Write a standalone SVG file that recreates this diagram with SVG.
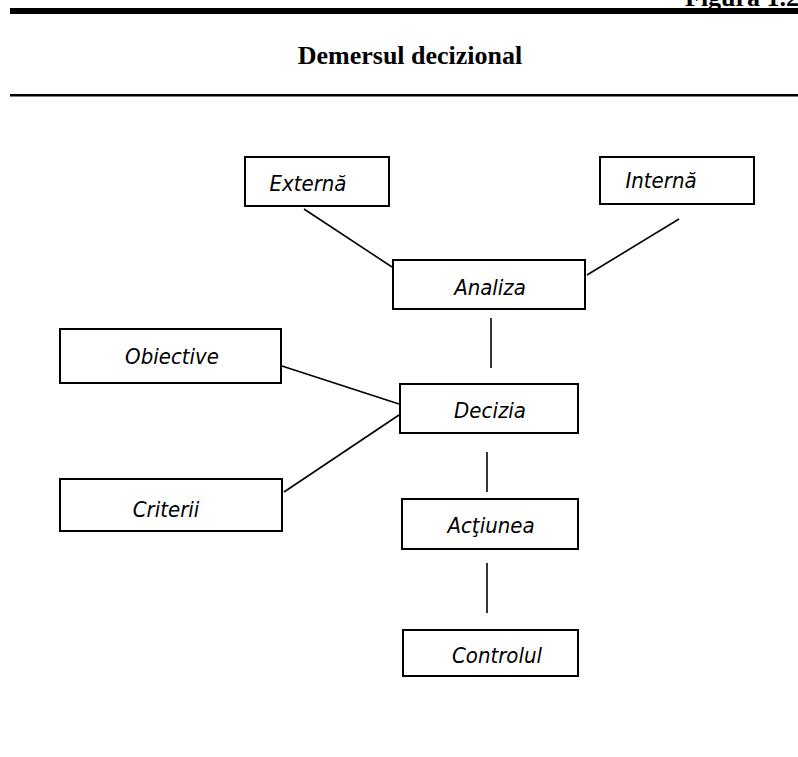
<svg xmlns="http://www.w3.org/2000/svg" width="798" height="757" viewBox="0 0 798 757">
  <style>
    .rule { fill: #000; }
    .head { font-family: "Liberation Serif", "Times New Roman", serif; font-weight: bold; font-size: 26px; fill: #000; }
    .box { fill: #fff; stroke: #000; stroke-width: 2; }
    .lbl { font-family: "DejaVu Sans Condensed", "DejaVu Sans", sans-serif; font-stretch: condensed; font-style: italic; font-size: 22px; fill: #000; text-anchor: middle; }
    .link { stroke: #000; stroke-width: 1.6; fill: none; }
  </style>
  <rect width="798" height="757" fill="#fff"/>

  <!-- page header -->
  <text class="head" x="685" y="6">Figura 1.2</text>
  <rect class="rule" x="10" y="8" width="788" height="6"/>
  <text class="head" x="410" y="64" text-anchor="middle">Demersul decizional</text>
  <rect class="rule" x="10" y="94" width="788" height="2.5"/>

  <!-- connectors -->
  <g id="connectors">
    <line class="link" x1="304" y1="209" x2="392" y2="267"/>
    <line class="link" x1="679" y1="219" x2="587" y2="275"/>
    <line class="link" x1="491" y1="318" x2="491" y2="368"/>
    <line class="link" x1="282" y1="366" x2="399" y2="404"/>
    <line class="link" x1="284" y1="492" x2="399" y2="415"/>
    <line class="link" x1="487" y1="452" x2="487" y2="492"/>
    <line class="link" x1="487" y1="563" x2="487" y2="613"/>
  </g>

  <g id="externa">
    <rect class="box" x="245" y="157" width="144" height="49"/>
    <text class="lbl" x="308" y="191">Externă</text>
  </g>
  <g id="interna">
    <rect class="box" x="600" y="157" width="154" height="47"/>
    <text class="lbl" x="661" y="188">Internă</text>
  </g>
  <g id="analiza">
    <rect class="box" x="393" y="260" width="192" height="49"/>
    <text class="lbl" x="490" y="295">Analiza</text>
  </g>
  <g id="obiective">
    <rect class="box" x="60" y="329" width="221" height="54"/>
    <text class="lbl" x="172" y="364">Obiective</text>
  </g>
  <g id="decizia">
    <rect class="box" x="400" y="384" width="178" height="49"/>
    <text class="lbl" x="490" y="418">Decizia</text>
  </g>
  <g id="criterii">
    <rect class="box" x="60" y="479" width="222" height="52"/>
    <text class="lbl" x="166" y="517">Criterii</text>
  </g>
  <g id="actiunea">
    <rect class="box" x="402" y="499" width="176" height="50"/>
    <text class="lbl" x="491" y="533">Acţiunea</text>
  </g>
  <g id="controlul">
    <rect class="box" x="403" y="630" width="175" height="46"/>
    <text class="lbl" x="497" y="663">Controlul</text>
  </g>
</svg>
